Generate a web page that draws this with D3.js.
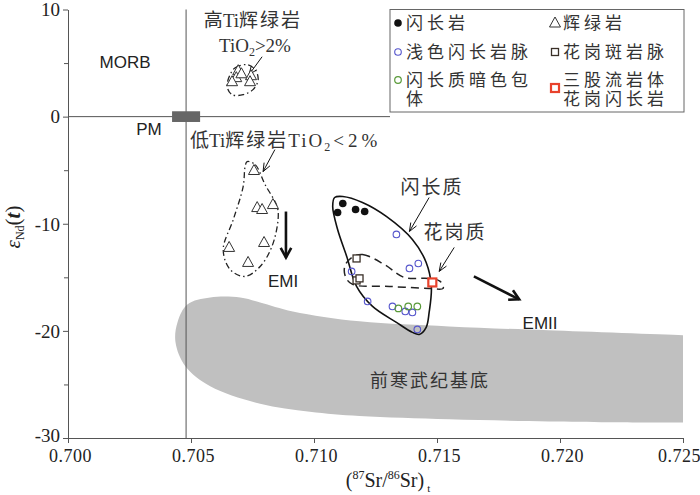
<!DOCTYPE html>
<html><head><meta charset="utf-8">
<script src="https://cdn.jsdelivr.net/npm/d3@7"></script>
<style>
body{margin:0;background:#fff;}
svg{display:block;}
</style></head>
<body>
<svg id="c" width="700" height="495"></svg>
<script>
// ---------- data ----------
const xTicks = [0.700, 0.705, 0.710, 0.715, 0.720, 0.725];
const yTicks = [10, 0, -10, -20, -30];
const yMinorTicks = [5, -5, -15, -25];

// 闪长岩 (filled black)
const diorite = [[0.71117,-8.11],[0.71096,-8.95],[0.71169,-8.67],[0.71206,-8.86]];
// 浅色闪长岩脉 (blue open circle)
const lightDioriteDyke = [[0.71335,-11.00],[0.71388,-14.17],[0.71424,-13.71],[0.71153,-14.45],
  [0.71218,-17.25],[0.71319,-17.72],[0.71371,-18.18],[0.71400,-18.28],[0.71420,-19.86]];
// 闪长质暗色包体 (green open circle)
const enclave = [[0.71343,-17.90],[0.71383,-17.72],[0.71420,-17.72]];
// 辉绿岩 (triangles) high-Ti and low-Ti
const diabaseHighTi = [[0.70692,4.29],[0.70684,3.64],[0.70667,3.26],[0.70744,3.82],[0.70740,3.26],[0.70705,4.00]];
const diabaseLowTi = [[0.70756,-5.03],[0.70769,-8.49],[0.70789,-8.67],[0.70833,-8.21],
  [0.70655,-12.21],[0.70797,-11.75],[0.70732,-13.61]];
// 花岗斑岩脉 (squares)
const granitePorphyry = [[0.71173,-13.24],[0.71173,-15.29],[0.71185,-15.10]];
// 三股流岩体花岗闪长岩 (red square)
const sanguliu = [[0.71481,-15.48]];

// outlines
const dioriteField = [[0.71084,-7.55],[0.71117,-7.46],[0.71197,-8.02],[0.71294,-9.32],[0.71400,-11.47],
  [0.71456,-13.61],[0.71477,-15.85],[0.71468,-18.28],[0.71456,-19.67],[0.71428,-20.33],[0.71400,-20.14],
  [0.71335,-19.21],[0.71238,-17.72],[0.71173,-15.85],[0.71133,-13.05],[0.71096,-10.54],[0.71076,-8.39]];
const graniticField = [[0.71153,-13.15],[0.71197,-12.87],[0.71286,-13.80],[0.71367,-15.01],[0.71468,-15.10],
  [0.71513,-15.38],[0.71525,-16.04],[0.71468,-16.04],[0.71307,-15.85],[0.71157,-15.66],[0.71129,-15.01],[0.71125,-13.99]];
const highTiField = [[0.70659,3.92],[0.70680,4.57],[0.70728,4.85],[0.70761,4.38],[0.70773,3.45],
  [0.70752,2.52],[0.70712,2.05],[0.70667,2.05],[0.70647,2.80]];
const lowTiField = [[0.70728,-4.20],[0.70761,-4.48],[0.70801,-6.34],[0.70850,-8.39],[0.70854,-9.60],
  [0.70829,-12.12],[0.70781,-13.99],[0.70720,-14.92],[0.70659,-14.27],[0.70631,-12.40],[0.70672,-9.60],
  [0.70712,-6.53],[0.70720,-4.66]];
// basement outline: from right-bottom, along bottom edge, around left end, along top edge to right-top
const basement = [[0.7252,-28.55],[0.72200,-28.52],[0.71954,-28.45],[0.71549,-28.25],[0.71185,-27.95],
  [0.70983,-27.55],[0.70781,-26.80],[0.70578,-25.17],[0.70477,-23.31],[0.70437,-21.07],[0.70445,-19.21],
  [0.70485,-17.53],[0.70578,-16.88],[0.70700,-16.88],[0.70781,-17.34],[0.70914,-18.18],[0.71185,-19.11],
  [0.71549,-19.58],[0.71954,-19.95],[0.7252,-20.42]];

// reference lines / PM box
const pmSr = 0.70480;
const pmBox = [0.70423, 0.70537, 0.5, -0.5];

// arrows [x1,y1,x2,y2, thick]
const arrows = [
  [0.70789,5.59,0.70736,3.92,false],
  [0.70841,-3.08,0.70793,-5.13,false],
  [0.71468,-7.55,0.71388,-10.72,false],
  [0.71570,-12.21,0.71509,-14.45,false],
  [0.70886,-8.86,0.70886,-13.15,true],
  [0.71650,-14.92,0.71834,-17.06,true]
];

// legend
const legendItems = [
  {label:["闪长岩"], type:"dot", col:0, row:0},
  {label:["浅色闪长岩脉"], type:"blue", col:0, row:1},
  {label:["闪长质暗色包","体"], type:"green", col:0, row:2},
  {label:["辉绿岩"], type:"tri", col:1, row:0},
  {label:["花岗斑岩脉"], type:"sq", col:1, row:1},
  {label:["三股流岩体","花岗闪长岩"], type:"red", col:1, row:2}
];

// ---------- drawing ----------
const svg = d3.select("#c");
const x = d3.scaleLinear().domain([0.700, 0.725]).range([68, 683]);
const y = d3.scaleLinear().domain([-30, 10]).range([438, 9.5]);

const CJK = "'Liberation Serif','Noto Sans CJK SC',serif";
const SANS = "'Liberation Sans',Arial,sans-serif";
const AXC = "#555";

svg.append("defs").append("clipPath").attr("id","clip")
  .append("rect").attr("x",68).attr("y",9.5).attr("width",615).attr("height",428.5);

// basement
const openCurve = d3.line().x(d=>x(d[0])).y(d=>y(d[1])).curve(d3.curveCatmullRom.alpha(0.5));
svg.append("path").datum(basement)
  .attr("clip-path","url(#clip)")
  .attr("d", openCurve(basement) + "Z")
  .attr("fill","#c0c0c0").attr("stroke","none");

svg.append("text").attr("x",x(0.71472)).attr("y",y(-25.25)).attr("text-anchor","middle")
  .attr("font-family",CJK).attr("font-size",18).attr("letter-spacing",2).attr("fill","#333")
  .text("前寒武纪基底");

// reference lines
svg.append("line").attr("x1",x(pmSr)).attr("x2",x(pmSr)).attr("y1",y(10)).attr("y2",y(-30))
  .attr("stroke",AXC).attr("stroke-width",1);
const legL = 390, legR = 684, legT = 9.5, legB = 112;
svg.append("line").attr("x1",x(0.700)).attr("x2",legL).attr("y1",y(0)).attr("y2",y(0))
  .attr("stroke",AXC).attr("stroke-width",1);
svg.append("rect").attr("x",x(pmBox[0])).attr("y",y(pmBox[2])).attr("width",x(pmBox[1])-x(pmBox[0]))
  .attr("height",y(pmBox[3])-y(pmBox[2])).attr("fill","#666");

// axes
const xAxis = svg.append("g").attr("transform",`translate(0,${y(-30)})`)
  .call(d3.axisBottom(x).tickValues(xTicks).tickFormat(d3.format(".3f")).tickSize(5).tickSizeOuter(0).tickPadding(6));
xAxis.selectAll("text").attr("font-family","'Liberation Serif',serif").attr("font-size",18).attr("fill","#222")
  .attr("letter-spacing",0.5).attr("dx",(d,i)=> i===xTicks.length-1 ? -4 : 2);
const yAxis = svg.append("g").attr("transform",`translate(${x(0.700)},0)`)
  .call(d3.axisLeft(y).tickValues(yTicks).tickFormat(d=>d).tickSize(5).tickSizeOuter(0).tickPadding(3));
yAxis.selectAll("text").attr("font-family","'Liberation Serif',serif").attr("font-size",19).attr("fill","#222")
  .attr("dy",(d)=> d===-30 ? "0.2em" : "0.33em");
svg.append("g").attr("transform",`translate(${x(0.700)},0)`)
  .call(d3.axisLeft(y).tickValues(yMinorTicks).tickFormat("").tickSize(4).tickSizeOuter(0))
  .select(".domain").remove();
svg.selectAll(".domain, .tick line").attr("stroke",AXC);

// axis titles
const xt = svg.append("text").attr("x",388).attr("y",487).attr("text-anchor","middle")
  .attr("font-family","'Liberation Serif',serif").attr("font-size",20).attr("fill","#222");
xt.append("tspan").text("(");
xt.append("tspan").attr("font-size",12).attr("dy",-8).text("87");
xt.append("tspan").attr("dy",8).text("Sr/");
xt.append("tspan").attr("font-size",12).attr("dy",-8).text("86");
xt.append("tspan").attr("dy",8).text("Sr)");
xt.append("tspan").attr("font-size",11).attr("dy",5).attr("dx",3).text("t");

const yt = svg.append("text").attr("transform","translate(20,227) rotate(-90)").attr("text-anchor","middle")
  .attr("font-family","'Liberation Serif',serif").attr("font-size",21).attr("fill","#222");
yt.append("tspan").attr("font-style","italic").text("ε");
yt.append("tspan").attr("font-size",12).attr("dy",4).text("Nd");
yt.append("tspan").attr("dy",-4).text("(");
yt.append("tspan").attr("font-style","italic").attr("font-weight","bold").text("t");
yt.append("tspan").text(")");

// fields
const closed = d3.line().x(d=>x(d[0])).y(d=>y(d[1])).curve(d3.curveCatmullRomClosed.alpha(0.5));
svg.append("path").datum(dioriteField).attr("d",closed).attr("fill","none").attr("stroke","#111").attr("stroke-width",1.6);
svg.append("path").datum(graniticField).attr("d",closed).attr("fill","none").attr("stroke","#222").attr("stroke-width",1.5).attr("stroke-dasharray","8,5");
svg.append("path").datum(highTiField).attr("d",closed).attr("fill","none").attr("stroke","#222").attr("stroke-width",1.3).attr("stroke-dasharray","6,3,1.5,3");
svg.append("path").datum(lowTiField).attr("d",closed).attr("fill","none").attr("stroke","#222").attr("stroke-width",1.3).attr("stroke-dasharray","6,3,1.5,3");

// arrows
arrows.forEach(a=>{
  const x1=x(a[0]), y1=y(a[1]), x2=x(a[2]), y2=y(a[3]);
  const ang=Math.atan2(y2-y1,x2-x1);
  const hl = a[4]?11:9, ha = a[4]?0.5:0.38, sw = a[4]?2.6:1;
  svg.append("line").attr("x1",x1).attr("y1",y1).attr("x2",x2).attr("y2",y2).attr("stroke","#111").attr("stroke-width",sw);
  const p1=[x2-hl*Math.cos(ang-ha), y2-hl*Math.sin(ang-ha)];
  const p2=[x2-hl*Math.cos(ang+ha), y2-hl*Math.sin(ang+ha)];
  svg.append("path").attr("d",`M${p1[0]},${p1[1]}L${x2},${y2}L${p2[0]},${p2[1]}`)
    .attr("fill","none").attr("stroke","#111").attr("stroke-width",sw).attr("stroke-linejoin","miter");
});

// markers
const triPath = (cx,cy,s)=>`M${cx},${cy-s*0.6}L${cx+s*0.55},${cy+s*0.4}L${cx-s*0.55},${cy+s*0.4}Z`;
function drawMarker(g, type, cx, cy){
  if(type==="dot") g.append("circle").attr("cx",cx).attr("cy",cy).attr("r",3.8).attr("fill","#111");
  else if(type==="blue") g.append("circle").attr("cx",cx).attr("cy",cy).attr("r",3.3).attr("fill","none").attr("stroke","#5555cc").attr("stroke-width",1.1);
  else if(type==="green") g.append("circle").attr("cx",cx).attr("cy",cy).attr("r",3.3).attr("fill","none").attr("stroke","#5a9a3a").attr("stroke-width",1.2);
  else if(type==="tri") g.append("path").attr("d",triPath(cx,cy,10)).attr("fill","#fff").attr("stroke","#333").attr("stroke-width",1);
  else if(type==="sq") g.append("rect").attr("x",cx-3.5).attr("y",cy-3.5).attr("width",7).attr("height",7).attr("fill","#fff").attr("stroke","#3a3028").attr("stroke-width",1.3);
  else if(type==="red") g.append("rect").attr("x",cx-4).attr("y",cy-4).attr("width",8).attr("height",8).attr("fill","#fff").attr("stroke","#e8422c").attr("stroke-width",2.2);
}
const mg = svg.append("g");
diabaseHighTi.forEach(d=>drawMarker(mg,"tri",x(d[0]),y(d[1])));
diabaseLowTi.forEach(d=>drawMarker(mg,"tri",x(d[0]),y(d[1])));
granitePorphyry.forEach(d=>drawMarker(mg,"sq",x(d[0]),y(d[1])));
lightDioriteDyke.forEach(d=>drawMarker(mg,"blue",x(d[0]),y(d[1])));
enclave.forEach(d=>drawMarker(mg,"green",x(d[0]),y(d[1])));
diorite.forEach(d=>drawMarker(mg,"dot",x(d[0]),y(d[1])));
sanguliu.forEach(d=>drawMarker(mg,"red",x(d[0]),y(d[1])));

// annotations
function cjkText(px,py,anchor,parts,size){
  const t = svg.append("text").attr("x",px).attr("y",py).attr("text-anchor",anchor)
    .attr("font-family",CJK).attr("font-size",size||19).attr("fill","#333");
  parts.forEach(p=>{
    const s=t.append("tspan").text(p.t);
    if(p.sub){ s.attr("font-size",12).attr("dy",4); }
    if(p.after){ s.attr("dy",-4); }
    if(p.ls) s.attr("letter-spacing",p.ls);
  });
  return t;
}
cjkText(x(0.70752),y(8.37),"middle",[{t:"高"},{t:"Ti"},{t:"辉绿岩",ls:2}]);
cjkText(x(0.70760),y(6.03),"middle",[{t:"TiO"},{t:"2",sub:true},{t:">2%",after:true}]);
cjkText(x(0.70496),y(-2.84),"start",[{t:"低"},{t:"Ti"},{t:"辉绿岩",ls:2},{t:"TiO",ls:2},{t:"2",sub:true,ls:3},{t:"<2%",after:true,ls:4}]);
cjkText(x(0.71480),y(-7.23),"middle",[{t:"闪长质",ls:2}]);
cjkText(x(0.71573),y(-11.43),"middle",[{t:"花岗质",ls:2}]);

function sansText(px,py,s){
  svg.append("text").attr("x",px).attr("y",py).attr("text-anchor","middle")
    .attr("font-family",SANS).attr("font-size",17).attr("fill","#222").text(s);
}
sansText(x(0.70232),y(4.54),"MORB");
sansText(x(0.70329),y(-1.72),"PM");
sansText(x(0.70874),y(-15.9),"EMI");
sansText(x(0.71919),y(-19.83),"EMII");

// legend
svg.append("rect").attr("x",legL).attr("y",legT).attr("width",legR-legL).attr("height",legB-legT)
  .attr("fill","#fff").attr("stroke","#666").attr("stroke-width",1);
const colX = [398, 555];
const rowY = [23, 52, 80];
legendItems.forEach(it=>{
  const cx = colX[it.col];
  const cy = it.label.length>1 && it.col===1 ? 88 : rowY[it.row];
  drawMarker(svg, it.type, cx, cy);
  const t = svg.append("text").attr("font-family",CJK).attr("font-size",17).attr("letter-spacing",4).attr("fill","#333");
  const ty = rowY[it.row];
  it.label.forEach((l,i)=>{
    t.append("tspan").attr("x",cx+8).attr("y",ty+6+i*19).text(l);
  });
});
</script>
</body></html>
